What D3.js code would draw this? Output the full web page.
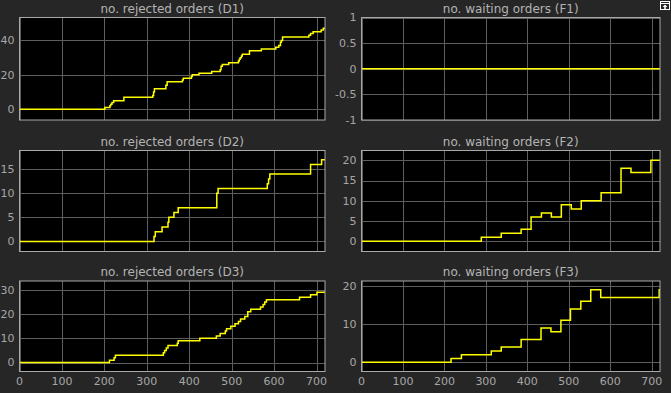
<!DOCTYPE html>
<html>
<head>
<meta charset="utf-8">
<script src="https://cdn.jsdelivr.net/npm/d3@7"></script>
<style>
  body { margin: 0; background: #262626; }
  svg { display: block; }
  text { font-family: "DejaVu Sans", sans-serif; }
</style>
</head>
<body>
<svg id="chart" width="671" height="393"></svg>
<script>
// time axis
const tMax = 720;
const xTicks = [0, 100, 200, 300, 400, 500, 600, 700];

// step signals: times where value changes, and the new value
const d1Times  = [0, 201, 213, 215, 218, 222, 246, 314, 316, 318, 345, 348, 384, 386, 405, 407, 423, 453, 473, 475, 478, 493, 516, 518, 520, 523, 525, 542, 570, 604, 611, 615, 617, 620, 682, 686, 692, 711, 716];
const d1Values = [0, 1, 2, 3, 4, 5, 7, 8, 10, 12, 14, 16, 17, 18, 19, 20, 21, 22, 23, 25, 26, 27, 28, 29, 30, 31, 32, 34, 35, 36, 37, 39, 40, 42, 43, 44, 45, 46, 47];

const f1Times  = [0];
const f1Values = [0];

const d2Times  = [0, 317, 320, 336, 350, 352, 364, 374, 465, 468, 584, 587, 590, 686, 712];
const d2Values = [0, 1, 2, 3, 4, 5, 6, 7, 10, 11, 12, 13, 14, 16, 17];

const f2Times  = [0, 289, 337, 385, 409, 434, 458, 482, 506, 530, 578, 626, 650, 698];
const f2Values = [0, 1, 2, 3, 6, 7, 6, 9, 8, 10, 12, 18, 17, 20];

const d3Times  = [0, 212, 223, 226, 339, 342, 346, 350, 372, 374, 425, 464, 473, 485, 488, 498, 508, 516, 521, 531, 538, 545, 568, 574, 578, 582, 660, 686, 701];
const d3Values = [0, 1, 2, 3, 4, 5, 6, 7, 8, 9, 10, 11, 12, 13, 14, 15, 16, 17, 18, 19, 21, 22, 23, 24, 25, 26, 27, 28, 29];

const f3Times  = [0, 216, 241, 313, 337, 385, 433, 457, 481, 504, 529, 553, 577, 718];
const f3Values = [0, 1, 2, 3, 4, 6, 9, 8, 11, 14, 16, 19, 17, 19];

const panels = [
    { title: "no. rejected orders (D1)", times: d1Times, values: d1Values, yDomain: [-6.2, 53.3], yTicks: [0, 20, 40], col: 0, row: 0 },
    { title: "no. waiting orders (F1)",  times: f1Times, values: f1Values, yDomain: [-1, 1], yTicks: [-1, -0.5, 0, 0.5, 1], col: 1, row: 0 },
    { title: "no. rejected orders (D2)", times: d2Times, values: d2Values, yDomain: [-2.1, 18.9], yTicks: [0, 5, 10, 15], col: 0, row: 1 },
    { title: "no. waiting orders (F2)",  times: f2Times, values: f2Values, yDomain: [-2.5, 22.4], yTicks: [0, 5, 10, 15, 20], col: 1, row: 1 },
    { title: "no. rejected orders (D3)", times: d3Times, values: d3Values, yDomain: [-3.7, 33.7], yTicks: [0, 10, 20, 30], col: 0, row: 2 },
    { title: "no. waiting orders (F3)",  times: f3Times, values: f3Values, yDomain: [-2.4, 21.3], yTicks: [0, 10, 20], col: 1, row: 2 }
];

// layout of the plot areas
const cols = [{ x0: 19.5, x1: 325 }, { x0: 361.5, x1: 660 }];
const rows = [{ y0: 17.5, y1: 120 }, { y0: 150.5, y1: 251.5 }, { y0: 281, y1: 371.5 }];

const svg = d3.select("#chart");

panels.forEach(p => {
    const c = cols[p.col], r = rows[p.row];
    const x = d3.scaleLinear().domain([0, tMax]).range([c.x0, c.x1]);
    const y = d3.scaleLinear().domain(p.yDomain).range([r.y1, r.y0]);

    const g = svg.append("g");

    // plot background
    g.append("rect")
        .attr("x", c.x0).attr("y", r.y0)
        .attr("width", c.x1 - c.x0).attr("height", r.y1 - r.y0)
        .attr("fill", "#000");

    // grid
    g.selectAll(".vgrid").data(xTicks).enter().append("line")
        .attr("x1", d => Math.round(x(d)) + 0.5).attr("x2", d => Math.round(x(d)) + 0.5)
        .attr("y1", r.y0).attr("y2", r.y1)
        .attr("stroke", "#5e5e5e").attr("stroke-width", 1);
    g.selectAll(".hgrid").data(p.yTicks).enter().append("line")
        .attr("x1", c.x0).attr("x2", c.x1)
        .attr("y1", d => Math.round(y(d)) + 0.5).attr("y2", d => Math.round(y(d)) + 0.5)
        .attr("stroke", "#5e5e5e").attr("stroke-width", 1);

    // signal
    const pts = p.times.map((t, i) => [t, p.values[i]]);
    pts.push([tMax, p.values[p.values.length - 1]]);
    const line = d3.line()
        .x(d => x(d[0]))
        .y(d => y(d[1]))
        .curve(d3.curveStepAfter);
    g.append("path")
        .datum(pts)
        .attr("d", line)
        .attr("fill", "none")
        .attr("stroke", "#ffff00")
        .attr("stroke-width", 1.5);

    // frame
    g.append("rect")
        .attr("x", c.x0).attr("y", r.y0)
        .attr("width", c.x1 - c.x0).attr("height", r.y1 - r.y0)
        .attr("fill", "none")
        .attr("stroke", "#a8a8a8").attr("stroke-width", 1);

    // y tick labels
    g.selectAll(".ylab").data(p.yTicks).enter().append("text")
        .attr("x", c.x0 - 5)
        .attr("y", d => y(d))
        .attr("dy", "0.35em")
        .attr("text-anchor", "end")
        .attr("font-size", 11)
        .attr("fill", "#a6a6a6")
        .text(d => d);

    // x tick labels on bottom row only
    if (p.row === 2) {
        g.selectAll(".xlab").data(xTicks).enter().append("text")
            .attr("x", d => x(d))
            .attr("y", r.y1 + 13)
            .attr("text-anchor", "middle")
            .attr("font-size", 11)
            .attr("fill", "#a6a6a6")
            .text(d => d);
    }

    // title
    g.append("text")
        .attr("x", (c.x0 + c.x1) / 2)
        .attr("y", r.y0 - 5)
        .attr("text-anchor", "middle")
        .attr("font-size", 12)
        .attr("fill", "#b4b4b4")
        .text(p.title);
});

// small undock icon in the top-right corner
const icon = svg.append("g").attr("transform", "translate(660,1)");
icon.append("rect").attr("x", 0.5).attr("y", 0.5).attr("width", 9).attr("height", 8)
    .attr("fill", "none").attr("stroke", "#fff");
icon.append("line").attr("x1", 0.5).attr("x2", 9.5).attr("y1", 2.5).attr("y2", 2.5).attr("stroke", "#fff");
icon.append("path").attr("d", "M5,3.5 L2.5,6 L4.2,6 L4.2,8 L5.8,8 L5.8,6 L7.5,6 Z").attr("fill", "#fff");
</script>
</body>
</html>
